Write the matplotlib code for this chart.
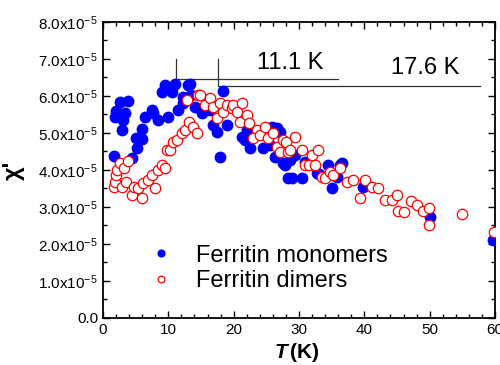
import numpy as np
import matplotlib.pyplot as plt
from matplotlib.ticker import MultipleLocator, FuncFormatter

plt.rcParams["font.family"] = ["Liberation Sans", "DejaVu Sans"]
plt.rcParams["mathtext.fontset"] = "custom"
plt.rcParams["mathtext.rm"] = "Liberation Sans"
plt.rcParams["mathtext.default"] = "regular"

# ferritin monomers (T in K, chi' in units of 1e-5)
t_mono = [1.7, 2.0, 2.6, 3.8, 1.8, 3.4, 3.1, 2.9, 4.4, 5.1, 5.2, 6.0, 6.0, 6.4,
          7.5, 7.7, 8.4, 9.0, 9.5, 10.0, 10.5, 11.0, 11.5, 12.3, 13.0, 13.4, 14.1,
          13.3, 12.3, 15.2, 16.4, 18.4, 16.8, 17.4, 19.0, 17.9, 21.3, 21.7, 22.5,
          22.0, 24.5, 25.6, 26.3, 26.6, 27.1, 27.6, 28.3, 25.9, 27.9, 28.9, 30.5,
          28.6, 30.9, 32.8, 34.5, 36.3, 35.1, 35.8, 39.8, 36.6, 33.0, 29.4, 50.0,
          59.7]
chi_mono = [4.38, 5.6, 5.84, 5.86, 5.43, 5.55, 5.35, 5.08, 4.32, 4.87, 4.6, 4.84,
            5.1, 5.43, 5.62, 5.53, 5.35, 6.11, 6.3, 5.43, 6.11, 6.32, 5.62, 5.8,
            6.3, 6.03, 5.7, 6.32, 5.97, 5.54, 5.62, 6.14, 5.22, 5.03, 5.22, 4.35,
            4.9, 4.81, 4.6, 5.08, 4.6, 4.68, 4.35, 5.14, 5.03, 4.19, 3.78, 5.16,
            4.14, 3.78, 3.78, 4.27, 4.22, 3.92, 4.14, 4.14, 3.51, 3.81, 3.54, 4.19,
            3.9, 4.4, 2.73, 2.1]

# ferritin dimers
t_dim = [1.7, 1.8, 2.0, 2.1, 2.6, 3.2, 3.8, 2.9, 3.5, 4.4, 4.7, 5.4, 6.0, 6.1,
         6.9, 7.5, 8.0, 8.4, 9.0, 9.5, 9.8, 10.3, 10.7, 11.3, 12.1, 12.6, 13.2,
         13.8, 14.4, 12.9, 14.5, 14.9, 15.6, 16.4, 16.8, 17.5, 17.9, 18.4, 19.0,
         19.8, 19.9, 20.5, 21.3, 21.0, 22.0, 22.4, 23.6, 23.0, 24.0, 24.8, 25.3,
         26.0, 26.6, 27.1, 27.6, 28.0, 28.3, 29.4, 28.6, 30.5, 32.0, 32.9, 30.9,
         31.5, 32.5, 33.5, 34.0, 34.8, 35.2, 36.3, 37.4, 38.3, 39.4, 40.1, 41.2,
         42.1, 43.2, 44.3, 45.0, 45.2, 46.1, 47.2, 48.1, 49.0, 49.9, 49.9, 55.0,
         59.9]
chi_dim = [3.54, 3.68, 3.86, 4.0, 4.19, 4.05, 4.24, 3.54, 3.68, 3.32, 3.54, 3.51,
           3.24, 3.65, 3.73, 3.86, 3.51, 4.0, 4.14, 4.05, 4.54, 4.54, 4.76, 4.81,
           5.0, 5.08, 5.3, 5.16, 5.0, 5.89, 6.03, 6.03, 5.76, 5.95, 5.7, 5.41, 5.8,
           5.57, 5.76, 5.68, 5.76, 5.57, 5.8, 5.3, 5.49, 5.27, 5.08, 4.86, 4.95,
           5.16, 4.86, 5.0, 4.62, 4.49, 4.81, 4.76, 4.49, 4.89, 4.54, 4.54, 4.4,
           4.54, 4.14, 4.14, 4.14, 3.81, 3.78, 3.95, 3.86, 4.05, 3.68, 3.73, 3.24,
           3.73, 3.54, 3.51, 3.19, 3.19, 3.32, 2.89, 2.86, 3.16, 3.05, 2.89, 2.97,
           2.51, 2.81, 2.32]

scale = 1e-5

fig = plt.figure(figsize=(5.0, 3.65), dpi=100)
ax = fig.add_axes([0.206, 0.129, 0.784, 0.811])

ax.plot(t_mono, np.array(chi_mono) * scale, "o", color="blue", ms=7.5,
        mec="blue", label="Ferritin monomers", zorder=3)
ax.plot(t_dim, np.array(chi_dim) * scale, "o", mfc="white", mec="red", ms=7.5,
        mew=0.9, label="Ferritin dimers", zorder=4)

# transition markers
ax.plot([11.1, 11.1, 36.0], [7.0e-5, 6.46e-5, 6.46e-5], color="#333333", lw=0.9)
ax.plot([17.6, 17.6, 57.7], [7.0e-5, 6.27e-5, 6.27e-5], color="#333333", lw=0.9)
ax.text(28.6, 6.89e-5, "11.1 K", fontsize=17, ha="center", va="center")
ax.text(49.3, 6.76e-5, "17.6 K", fontsize=17, ha="center", va="center")

ax.set_xlim(0, 60)
ax.set_ylim(0, 8e-5)
ax.xaxis.set_major_locator(MultipleLocator(10))
ax.xaxis.set_minor_locator(MultipleLocator(2))
ax.yaxis.set_major_locator(MultipleLocator(1e-5))
ax.yaxis.set_minor_locator(MultipleLocator(0.5e-5))


def fmt(v, pos):
    if abs(v) < 1e-12:
        return "0.0"
    return f"{v / scale:.1f}x10$^{{-5}}$"


ax.yaxis.set_major_formatter(FuncFormatter(fmt))
ax.tick_params(which="both", direction="in", top=True, right=True, labelsize=11)
ax.tick_params(which="major", length=5, width=1)
ax.tick_params(which="minor", length=3, width=1)
for s in ax.spines.values():
    s.set_linewidth(1.3)

fig.text(0.575, 0.02, "T", fontsize=15, fontweight="bold", style="italic", ha="right")
fig.text(0.58, 0.02, "(K)", fontsize=15, fontweight="bold", ha="left")
ax.set_ylabel("χ'", fontsize=17, fontweight="bold")
ax.yaxis.set_label_coords(-0.2, 0.5)

ax.legend(loc="center left", bbox_to_anchor=(0.089, 0.167), frameon=False,
          fontsize=17, handletextpad=0.48, labelspacing=0.15, markerscale=0.65,
          borderpad=0, borderaxespad=0)

fig.savefig("out.png", dpi=100)
